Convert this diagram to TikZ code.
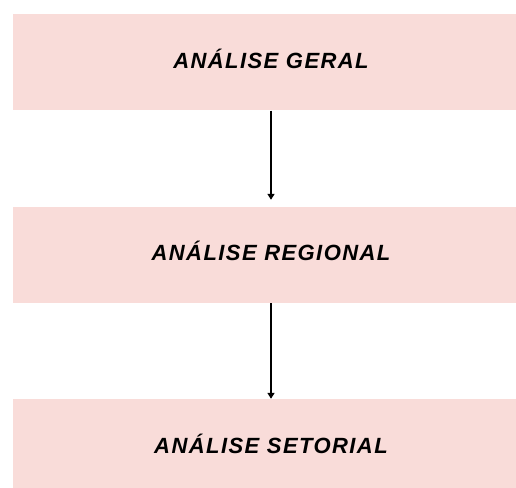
\documentclass[tikz,border=0pt]{standalone}
\usepackage{fontspec}
\setmainfont{Liberation Sans}
\usetikzlibrary{arrows.meta}
\definecolor{boxpink}{HTML}{F9DCD9}
\tikzset{
  stagebox/.style={rectangle, fill=boxpink, draw=none, minimum width=516pt, minimum height=96pt, inner sep=0pt,
    text height=15.8pt, text depth=4pt,
    font=\fontsize{22}{26}\selectfont\bfseries\itshape\addfontfeature{LetterSpace=6.5}},
  flowarrow/.style={line width=1.5pt, -{Triangle[width=7pt,length=6pt]}}
}
\begin{document}
\begin{tikzpicture}[x=1pt,y=-1pt]
\useasboundingbox (0,0) rectangle (516,487);
\begin{scope}
\clip (0,0) rectangle (516,487);
\node[stagebox] (geral) at (271,62.3) {ANÁLISE GERAL};
\node[stagebox] (regional) at (271,255) {ANÁLISE REGIONAL};
\node[stagebox, minimum height=98pt] (setorial) at (271,448) {ANÁLISE SETORIAL};
\end{scope}
\draw[flowarrow, shorten >=7pt] (geral.south) -- (regional.north);
\draw[flowarrow] (regional.south) -- (setorial.north);
\end{tikzpicture}
\end{document}
